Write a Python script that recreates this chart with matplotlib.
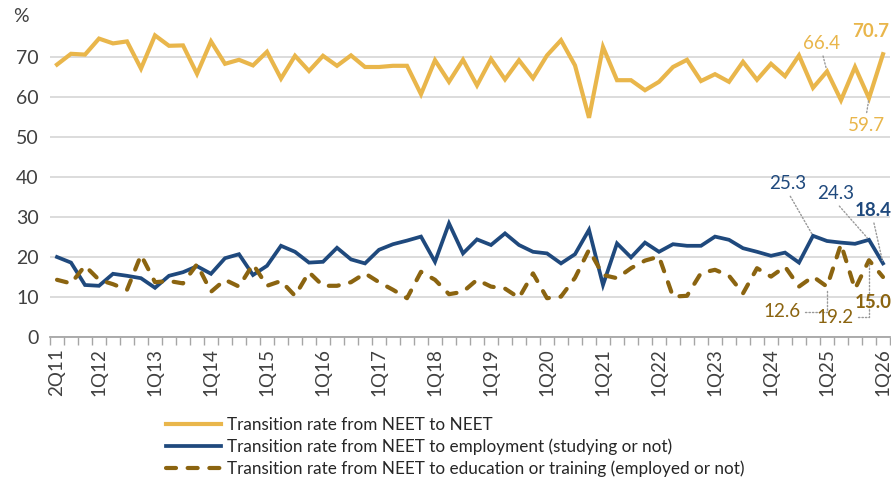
import matplotlib
matplotlib.use("Agg")
import matplotlib.pyplot as plt
import numpy as np

plt.rcParams['font.family'] = ['Lato', 'DejaVu Sans']

# ---- data ----
quarters = []
for yy in range(11, 27):
    for q in range(1, 5):
        quarters.append(f"{q}Q{yy}")
quarters = quarters[1:61]  # 2Q11 .. 1Q26

neet_to_neet = [68.1, 70.8, 70.6, 74.6, 73.4, 73.9, 67.1, 75.4, 72.8, 72.9,
                65.8, 73.9, 68.3, 69.3, 67.9, 71.3, 64.6, 70.3, 66.5, 70.3,
                67.8, 70.4, 67.5, 67.5, 67.8, 67.8, 60.7, 69.2, 63.8, 69.3,
                62.9, 69.5, 64.4, 69.2, 64.7, 70.4, 74.2, 67.9, 54.8, 72.5,
                64.2, 64.2, 61.7, 63.8, 67.5, 69.3, 64.0, 65.7, 63.8, 68.8,
                64.3, 68.3, 65.2, 70.4, 62.3, 66.4, 59.2, 67.5, 59.7, 70.7]

neet_to_employment = [20.0, 18.6, 13.0, 12.8, 15.8, 15.3, 14.7, 12.3, 15.3, 16.2,
                      17.7, 15.8, 19.7, 20.7, 15.5, 17.8, 22.8, 21.3, 18.6, 18.8,
                      22.3, 19.4, 18.4, 21.8, 23.2, 24.1, 25.1, 18.8, 28.4, 20.9,
                      24.4, 23.0, 25.9, 23.0, 21.3, 20.9, 18.4, 20.7, 26.8, 13.0,
                      23.4, 19.9, 23.6, 21.3, 23.2, 22.8, 22.8, 25.1, 24.3, 22.2,
                      21.3, 20.3, 21.1, 18.6, 25.3, 24.0, 23.6, 23.3, 24.3, 18.4]

neet_to_education = [14.3, 13.4, 17.8, 14.3, 13.2, 11.8, 20.5, 13.7, 14.0, 13.4,
                     18.2, 11.3, 14.3, 12.6, 18.2, 12.8, 14.0, 10.3, 16.2, 12.8,
                     12.8, 13.7, 15.9, 13.7, 11.8, 9.7, 16.3, 14.3, 10.7, 11.3,
                     14.3, 12.6, 12.1, 9.8, 15.9, 9.7, 10.1, 14.8, 21.8, 15.5,
                     14.7, 17.2, 19.1, 20.1, 10.1, 10.3, 16.0, 16.8, 15.3, 10.9,
                     17.2, 15.1, 17.6, 12.6, 15.1, 12.6, 23.2, 12.0, 19.2, 15.0]

tick_positions_labels = ['2Q11', '1Q12', '1Q13', '1Q14', '1Q15', '1Q16', '1Q17', '1Q18',
                         '1Q19', '1Q20', '1Q21', '1Q22', '1Q23', '1Q24', '1Q25', '1Q26']

series_labels = ['Transition rate from NEET to NEET',
                 'Transition rate from NEET to employment (studying or not)',
                 'Transition rate from NEET to education or training (employed or not)']

# ---- style ----
GOLD = '#E9B64B'
BLUE = '#1F497D'
BROWN = '#8B6410'
GRID = '#D9D9D9'
AXIS = '#A6A6A6'
TXT = '#404040'

fig = plt.figure(figsize=(8.91, 4.82), dpi=100)
ax = fig.add_axes([50 / 891, 1 - 337 / 482, 840 / 891, 320 / 482])

x = np.arange(len(quarters))
l1, = ax.plot(x, neet_to_neet, color=GOLD, lw=3.0, solid_joinstyle='miter', zorder=3)
l2, = ax.plot(x, neet_to_employment, color=BLUE, lw=2.7, solid_joinstyle='miter', zorder=4)
l3, = ax.plot(x, neet_to_education, color=BROWN, lw=3.0, zorder=5,
              dash_capstyle='round', dash_joinstyle='round')
l3.set_dashes((2.4, 2.8))

ax.set_xlim(-0.5, len(quarters) - 0.5)
ax.set_ylim(0, 80)
ax.set_yticks(np.arange(0, 80, 10))
ax.yaxis.grid(True, color=GRID, lw=1.3)
ax.set_axisbelow(True)
ax.tick_params(axis='y', length=0, labelsize=14, labelcolor=TXT, pad=8)

idx = [quarters.index(lab) for lab in tick_positions_labels]
ax.set_xticks(idx)
ax.set_xticklabels(tick_positions_labels, rotation=90, fontsize=13.5, color=TXT)
ax.set_xticks(np.arange(-0.5, len(quarters), 1), minor=True)
ax.tick_params(axis='x', which='major', length=0, pad=8)
ax.tick_params(axis='x', which='minor', length=6, color=AXIS, width=1)

for s in ['top', 'right', 'left']:
    ax.spines[s].set_visible(False)
ax.spines['bottom'].set_color(AXIS)
ax.spines['bottom'].set_linewidth(1.3)

ax.text(-0.025, 80, '%', transform=ax.get_yaxis_transform(), ha='right', va='center',
        fontsize=14, color=TXT)

# ---- annotations ----
lead = dict(arrowstyle='-', color='#9A9A9A', linestyle=(0, (1, 1.5)), lw=1.0,
            shrinkA=1, shrinkB=2)

def ann(series, i, color, off, bold=False, leader=True, relpos=(0.5, 0.5), conn=None):
    v = series[i]
    ap = None
    if leader:
        ap = dict(lead)
        ap['relpos'] = relpos
        if conn:
            ap['connectionstyle'] = conn
    ax.annotate(f"{v:.1f}", xy=(i, v), xytext=off, textcoords='offset pixels',
                ha='center', va='center', fontsize=13.5, color=color,
                fontweight='bold' if bold else 'normal', arrowprops=ap, zorder=6)

n = len(quarters)
ann(neet_to_neet, n - 5, GOLD, (-5, 28), relpos=(0.5, 0))
ann(neet_to_neet, n - 2, GOLD, (-3, -27), relpos=(0.5, 1))
ann(neet_to_neet, n - 1, GOLD, (-12, 23), bold=True, leader=False)

ann(neet_to_employment, n - 6, BLUE, (-25, 52), relpos=(0.5, 0))
ann(neet_to_employment, n - 2, BLUE, (-33, 46), relpos=(0.5, 0))
ann(neet_to_employment, n - 1, BLUE, (-10, 53), bold=True, relpos=(0.5, 0))

ann(neet_to_education, n - 5, BROWN, (-45, -25), relpos=(1, 0.5),
    conn='angle,angleA=0,angleB=90,rad=0')
ann(neet_to_education, n - 2, BROWN, (-34, -57), relpos=(1, 0.5),
    conn='angle,angleA=0,angleB=90,rad=0')
ann(neet_to_education, n - 1, BROWN, (-10, -26), bold=True, leader=False)

# ---- legend ----
leg = fig.legend([l1, l2, l3], series_labels, loc='upper left',
                 bbox_to_anchor=(166 / 891, 1 - 417 / 482), frameon=False,
                 fontsize=12.3, handlelength=3.2, handletextpad=0.35,
                 labelspacing=0.33, borderpad=0, borderaxespad=0)
for t in leg.get_texts():
    t.set_color('#262626')

fig.savefig('out.png', dpi=100)
